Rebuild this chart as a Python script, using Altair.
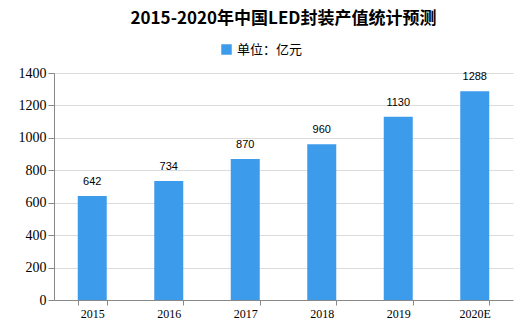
import altair as alt
import pandas as pd

years = ["2015", "2016", "2017", "2018", "2019", "2020E"]
values = [642, 734, 870, 960, 1130, 1288]
series = ["单位：亿元"] * len(years)

df = pd.DataFrame({"year": years, "value": values, "series": series})

base = alt.Chart(df).encode(
    x=alt.X("year:N", sort=years, title=None,
            scale=alt.Scale(paddingInner=0.62, paddingOuter=0.31),
            axis=alt.Axis(labelAngle=0, ticks=True, tickBand="extent", tickSize=5,
                          domainColor="#888888", tickColor="#888888",
                          labelFont="Liberation Serif", labelFontSize=12,
                          labelColor="#000000", labelPadding=3)),
    y=alt.Y("value:Q", title=None,
            scale=alt.Scale(domain=[0, 1400]),
            axis=alt.Axis(values=[0, 200, 400, 600, 800, 1000, 1200, 1400],
                          format="d", labelOverlap=False, tickSize=6,
                          grid=True, gridColor="#dcdcdc", domainColor="#888888",
                          tickColor="#888888", labelFont="Liberation Serif",
                          labelFontSize=14, labelColor="#000000", labelPadding=2)),
)

bars = base.mark_bar(size=29).encode(
    color=alt.Color("series:N", scale=alt.Scale(range=["#3C9BEB"]),
                    legend=alt.Legend(title=None, orient="none", legendX=166, legendY=-30,
                                      symbolType="square", symbolSize=110,
                                      labelFont="Noto Sans CJK SC", labelFontSize=13,
                                      labelColor="#000000"))
)

labels = base.mark_text(dy=-14, font="Liberation Sans", fontSize=11, color="#000000").encode(
    text="value:Q"
)

chart = (bars + labels).properties(
    width=459, height=227,
    title=alt.TitleParams("2015-2020年中国LED封装产值统计预测", font="Noto Sans CJK SC",
                          fontSize=17, fontWeight="bold", color="#000000",
                          anchor="middle", offset=15),
    padding={"left": 54, "top": 73, "right": 7, "bottom": 25},
    autosize="none"
).configure_view(stroke=None)

chart.save("out.html", embed_options={"renderer": "svg", "actions": False})
